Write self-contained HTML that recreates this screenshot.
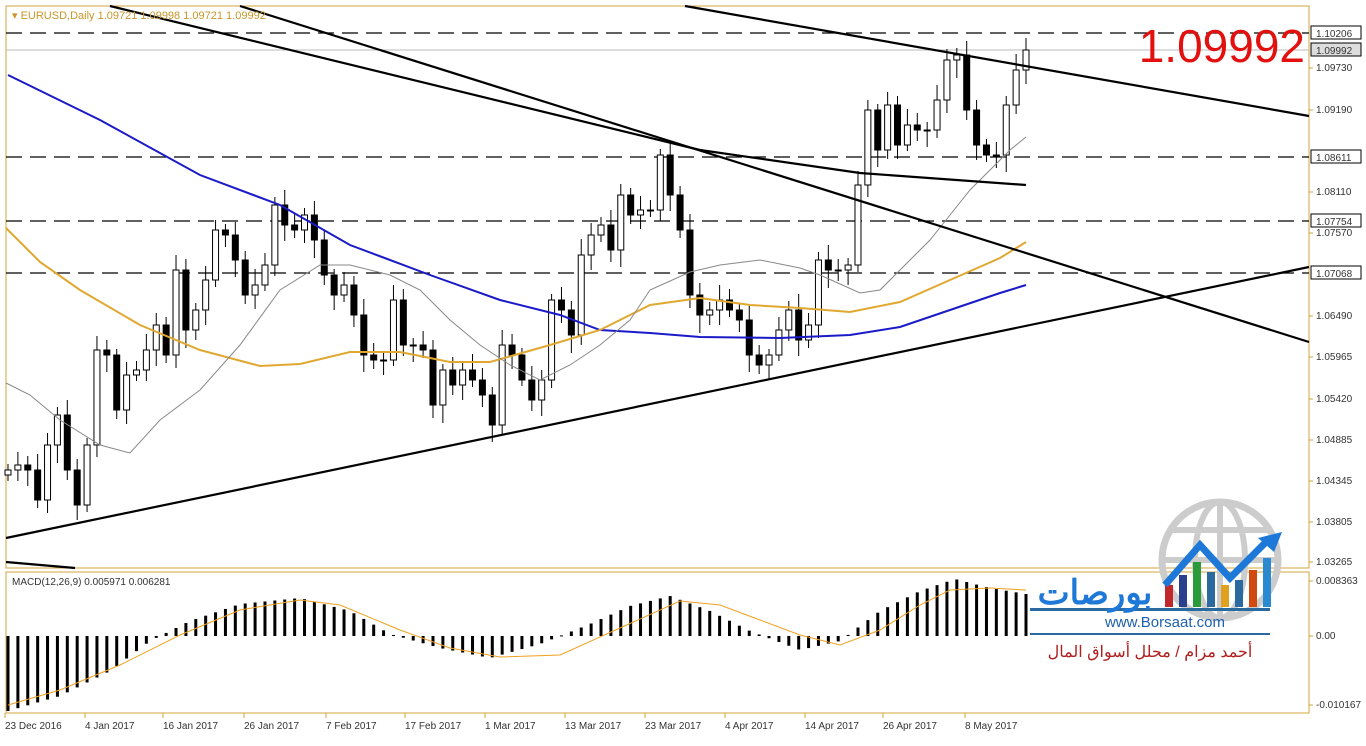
<!DOCTYPE html><html><head><meta charset="utf-8"><style>
body{margin:0;background:#fff;width:1366px;height:741px;overflow:hidden;font-family:"Liberation Sans",sans-serif}
svg text{font-family:"Liberation Sans",sans-serif}
</style></head><body>
<svg id="s" width="1366" height="741" xmlns="http://www.w3.org/2000/svg">
<rect x="0" y="0" width="1366" height="741" fill="#fff"/>
<rect x="6" y="6" width="1303" height="562" fill="none" stroke="#d4a43c"/>
<rect x="6" y="572" width="1303" height="141" fill="none" stroke="#d4a43c"/>
<g stroke="#000" stroke-width="1.3" stroke-dasharray="16,8">
<line x1="6" y1="33" x2="1309" y2="33"/><line x1="6" y1="157" x2="1309" y2="157"/>
<line x1="6" y1="221" x2="1309" y2="221"/><line x1="6" y1="273" x2="1309" y2="273"/></g>
<line x1="6" y1="50" x2="1309" y2="50" stroke="#bbb"/>
<g id="c"></g>
<g fill="none" stroke-width="2">
<polyline stroke="#1a1ac8" points="8,75 100,120 200,175 280,205 350,245 430,275 500,300 560,315 600,330 650,333 700,337 780,338 850,335 900,327 950,310 1000,293 1026,285"/>
<polyline stroke="#e0a830" points="6,228 40,262 80,290 140,325 200,350 260,366 300,364 350,352 400,352 450,362 490,362 550,345 600,330 650,305 700,298 750,305 800,308 850,312 900,302 950,280 1000,258 1026,242"/>
<polyline stroke="#888" stroke-width="1" points="6,383 30,395 60,420 100,445 130,453 160,420 200,390 240,345 280,290 320,265 350,265 390,275 420,290 450,320 480,345 510,365 540,380 570,365 600,345 630,320 650,290 690,272 720,265 760,260 800,268 820,275 860,293 880,290 900,270 930,240 950,215 970,190 990,170 1010,150 1026,137"/>
</g>
<g stroke="#000" stroke-width="2.2" fill="none">
<line x1="240" y1="6" x2="1309" y2="342"/>
<polyline points="110,6 700,150 860,173 1026,185"/>
<line x1="685" y1="6" x2="1309" y2="116"/>
<line x1="6" y1="538" x2="1309" y2="267"/>
<line x1="6" y1="562" x2="75" y2="568"/>
</g>
<g id="m"></g>
<polyline fill="none" stroke="#f0a020" stroke-width="1" points="8,705 60,690 120,665 180,635 240,610 300,600 340,605 400,630 450,648 500,657 560,655 620,628 680,601 720,605 760,620 800,635 840,645 880,630 920,605 950,590 990,588 1026,590"/>
<text x="12" y="19" font-size="11" fill="#c8962a">▾ EURUSD,Daily  1.09721 1.09998 1.09721 1.09992</text>
<text x="12" y="585" font-size="10" fill="#333">MACD(12,26,9) 0.005971 0.006281</text>
<text x="1305" y="62" font-size="46" fill="#e31010" text-anchor="end">1.09992</text>
<g id="ax" font-size="10" fill="#333"></g>
<g id="dt" font-size="10" fill="#333"></g>
<g>
<circle cx="1220" cy="560" r="58" fill="none" stroke="#ccc" stroke-width="7"/>
<ellipse cx="1220" cy="560" rx="25" ry="58" fill="none" stroke="#ccc" stroke-width="6"/>
<line x1="1162" y1="560" x2="1278" y2="560" stroke="#ccc" stroke-width="6"/>
<line x1="1172" y1="530" x2="1268" y2="530" stroke="#ccc" stroke-width="6"/>
<line x1="1220" y1="502" x2="1220" y2="618" stroke="#ccc" stroke-width="6"/>
<rect x="1165" y="585" width="8" height="22" fill="#c0282c"/><rect x="1179" y="575" width="8" height="32" fill="#2b3f8f"/>
<rect x="1193" y="562" width="8" height="45" fill="#2a9a3a"/><rect x="1207" y="572" width="8" height="35" fill="#2a6aa0"/>
<rect x="1221" y="585" width="8" height="22" fill="#e0a020"/><rect x="1235" y="580" width="8" height="27" fill="#2a6aa0"/>
<rect x="1249" y="570" width="8" height="37" fill="#d04a10"/><rect x="1263" y="558" width="8" height="49" fill="#2a8ad0"/>
<polyline points="1165,585 1200,545 1230,578 1268,540" fill="none" stroke="#1e78d8" stroke-width="7"/>
<polygon points="1282,532 1258,538 1274,552" fill="#1e78d8"/>
<rect x="1030" y="608" width="240" height="3" fill="#2a6aa0"/>
<text x="1095" y="604" font-size="34" font-weight="bold" fill="#1e78d8" text-anchor="middle" font-family="DejaVu Sans,sans-serif">بورصات</text>
<text x="1165" y="627" font-size="15" fill="#1e60b0" text-anchor="middle">www.Borsaat.com</text>
<rect x="1030" y="633" width="240" height="2" fill="#2a6aa0"/>
<text x="1150" y="657" font-size="16" fill="#b02020" text-anchor="middle" font-family="DejaVu Sans,sans-serif">أحمد مزام / محلل أسواق المال</text>
</g>
</svg>
<script>
(function(){
var ns="http://www.w3.org/2000/svg",c=document.getElementById('c');
function el(p,t,a,tx){var e=document.createElementNS(ns,t);for(var k in a)e.setAttribute(k,a[k]);if(tx)e.textContent=tx;p.appendChild(e);return e;}
var cl=[470,465,470,500,445,415,470,505,445,350,355,410,375,370,350,325,355,270,330,310,280,230,235,260,295,285,265,205,225,230,215,240,275,295,285,315,355,360,360,300,345,345,350,405,370,385,370,380,395,425,345,355,380,400,380,300,310,335,255,235,225,250,195,215,210,210,155,195,230,295,315,310,300,310,320,355,365,355,330,310,340,325,260,270,270,265,185,110,150,105,145,125,130,130,100,60,55,110,145,155,155,105,70,50];
var x0=8,dx=(1026-8)/(cl.length-1),o=cl[0]+5;
for(var i=0;i<cl.length;i++){var x=x0+i*dx,cc=cl[i],tp=Math.min(o,cc),bt=Math.max(o,cc);if(bt-tp<1)bt=tp+1;
var hi=tp-6-(i*7%11),lw=bt+6+(i*5%13);
el(c,'line',{x1:x,y1:hi,x2:x,y2:lw,stroke:'#000','stroke-width':1});
el(c,'rect',{x:x-3,y:tp,width:6,height:bt-tp,fill:cc<o?'#fff':'#000',stroke:'#000','stroke-width':1});o=cc;}
var m=document.getElementById('m');
var mp=[[8,-75],[60,-60],[110,-35],[150,-5],[190,15],[240,32],[300,38],[350,25],[390,2],[440,-12],[490,-22],[540,-8],[590,12],[630,30],[670,40],[710,25],[750,5],[800,-14],[840,-5],[880,25],[920,45],[955,57],[990,48],[1026,42]];
function mv(x){for(var j=0;j<mp.length-1;j++)if(x<=mp[j+1][0]){var t=(x-mp[j][0])/(mp[j+1][0]-mp[j][0]);return mp[j][1]+t*(mp[j+1][1]-mp[j][1]);}return 42;}
for(var i=0;i<cl.length;i++){var x=x0+i*dx,v=mv(x);el(m,'rect',{x:x-1.5,y:v>0?636-v:636,width:3,height:Math.max(1,Math.abs(v)),fill:'#000'});}
var ax=document.getElementById('ax');
[["1.09730",71],["1.09190",113],["1.08110",195],["1.07570",236],["1.06490",319],["1.05965",360],["1.05420",402],["1.04885",443],["1.04345",484],["1.03805",525],["1.03265",565],["0.008363",584],["0.00",639],["-0.010167",708]].forEach(function(a){el(ax,'line',{x1:1309,y1:a[1]-3,x2:1313,y2:a[1]-3,stroke:'#d4a43c'});el(ax,'text',{x:1316,y:a[1]},a[0]);});
[["1.10206",33,'#fff'],["1.09992",50,'#ddd'],["1.08611",157,'#fff'],["1.07754",221,'#fff'],["1.07068",273,'#fff']].forEach(function(a){el(ax,'rect',{x:1311,y:a[1]-7,width:50,height:13,fill:a[2],stroke:'#000'});el(ax,'text',{x:1316,y:a[1]+4},a[0]);});
var dt=document.getElementById('dt');
[["23 Dec 2016",5],["4 Jan 2017",85],["16 Jan 2017",163],["26 Jan 2017",244],["7 Feb 2017",326],["17 Feb 2017",405],["1 Mar 2017",485],["13 Mar 2017",565],["23 Mar 2017",645],["4 Apr 2017",725],["14 Apr 2017",805],["26 Apr 2017",883],["8 May 2017",965]].forEach(function(a){el(dt,'text',{x:a[1],y:729},a[0]);el(dt,'line',{x1:a[1],y1:713,x2:a[1],y2:718,stroke:'#d4a43c'});});
})();
</script>
</body></html>
